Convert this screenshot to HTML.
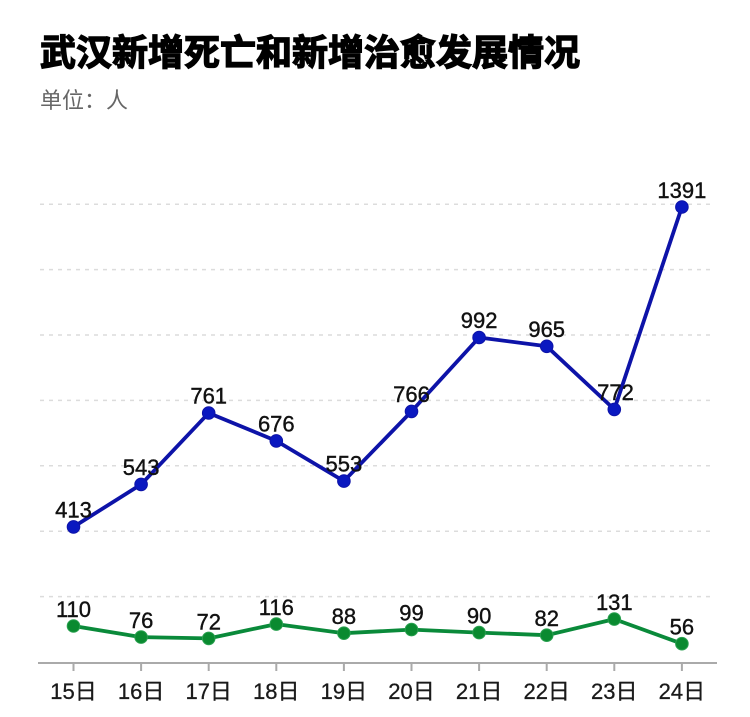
<!DOCTYPE html>
<html>
<head>
<meta charset="utf-8">
<style>
html,body{margin:0;padding:0;background:#fff;}
svg{display:block;}
.t{font-family:"Liberation Sans","Noto Sans CJK SC",sans-serif;}
</style>
</head>
<body>
<svg width="750" height="717" viewBox="0 0 750 717" xmlns="http://www.w3.org/2000/svg">
<rect width="750" height="717" fill="#fff"/>
<text x="40" y="65" font-family="'Noto Sans CJK SC',sans-serif" font-weight="bold" font-size="36" fill="#000" stroke="#000" stroke-width="1.4">武汉新增死亡和新增治愈发展情况</text>
<text x="40" y="108" font-family="'Noto Sans CJK SC',sans-serif" font-size="22" fill="#666">单位：人</text>

<g stroke="#dcdcdc" stroke-width="1.5" stroke-dasharray="4 5">
<line x1="40" y1="596.6" x2="712" y2="596.6"/>
<line x1="40" y1="531.2" x2="712" y2="531.2"/>
<line x1="40" y1="465.8" x2="712" y2="465.8"/>
<line x1="40" y1="400.4" x2="712" y2="400.4"/>
<line x1="40" y1="335.0" x2="712" y2="335.0"/>
<line x1="40" y1="269.6" x2="712" y2="269.6"/>
<line x1="40" y1="204.2" x2="712" y2="204.2"/>
</g>

<line x1="38" y1="663" x2="717" y2="663" stroke="#aaa" stroke-width="2"/>
<g stroke="#aaa" stroke-width="2">
<line x1="73.5" y1="663" x2="73.5" y2="671"/>
<line x1="141.1" y1="663" x2="141.1" y2="671"/>
<line x1="208.7" y1="663" x2="208.7" y2="671"/>
<line x1="276.3" y1="663" x2="276.3" y2="671"/>
<line x1="343.9" y1="663" x2="343.9" y2="671"/>
<line x1="411.5" y1="663" x2="411.5" y2="671"/>
<line x1="479.1" y1="663" x2="479.1" y2="671"/>
<line x1="546.7" y1="663" x2="546.7" y2="671"/>
<line x1="614.3" y1="663" x2="614.3" y2="671"/>
<line x1="681.9" y1="663" x2="681.9" y2="671"/>
</g>

<g class="t" font-size="22" fill="#1a1a1a" stroke="#1a1a1a" stroke-width="0.3" text-anchor="middle">
<text x="73.5" y="699">15日</text>
<text x="141.1" y="699">16日</text>
<text x="208.7" y="699">17日</text>
<text x="276.3" y="699">18日</text>
<text x="343.9" y="699">19日</text>
<text x="411.5" y="699">20日</text>
<text x="479.1" y="699">21日</text>
<text x="546.7" y="699">22日</text>
<text x="614.3" y="699">23日</text>
<text x="681.9" y="699">24日</text>
</g>

<!-- blue series -->
<polyline fill="none" stroke="#0d13a8" stroke-width="3.8" stroke-linejoin="round"
points="73.5,526.9 141.1,484.4 208.7,413.0 276.3,440.9 343.9,481.1 411.5,411.4 479.1,337.5 546.7,346.3 614.3,409.4 681.9,207.0"/>
<g fill="#0a18c0" stroke="#0d13a8" stroke-width="1">
<circle cx="73.5" cy="526.9" r="6.3"/>
<circle cx="141.1" cy="484.4" r="6.3"/>
<circle cx="208.7" cy="413.0" r="6.3"/>
<circle cx="276.3" cy="440.9" r="6.3"/>
<circle cx="343.9" cy="481.1" r="6.3"/>
<circle cx="411.5" cy="411.4" r="6.3"/>
<circle cx="479.1" cy="337.5" r="6.3"/>
<circle cx="546.7" cy="346.3" r="6.3"/>
<circle cx="614.3" cy="409.4" r="6.3"/>
<circle cx="681.9" cy="207.0" r="6.3"/>
</g>

<!-- green series -->
<polyline fill="none" stroke="#0a8a3a" stroke-width="3.8" stroke-linejoin="round"
points="73.5,626.0 141.1,637.1 208.7,638.4 276.3,624.1 343.9,633.2 411.5,629.6 479.1,632.6 546.7,635.2 614.3,619.1 681.9,643.7"/>
<g fill="#0a8a30" stroke="#2aa050" stroke-width="1">
<circle cx="73.5" cy="626.0" r="6.3"/>
<circle cx="141.1" cy="637.1" r="6.3"/>
<circle cx="208.7" cy="638.4" r="6.3"/>
<circle cx="276.3" cy="624.1" r="6.3"/>
<circle cx="343.9" cy="633.2" r="6.3"/>
<circle cx="411.5" cy="629.6" r="6.3"/>
<circle cx="479.1" cy="632.6" r="6.3"/>
<circle cx="546.7" cy="635.2" r="6.3"/>
<circle cx="614.3" cy="619.1" r="6.3"/>
<circle cx="681.9" cy="643.7" r="6.3"/>
</g>

<g class="t" font-size="22" fill="#111" stroke="#111" stroke-width="0.4" text-anchor="middle">
<text x="73.5" y="517.5">413</text>
<text x="141.1" y="475">543</text>
<text x="208.7" y="403.5">761</text>
<text x="276.3" y="431.5">676</text>
<text x="343.9" y="471.5">553</text>
<text x="411.5" y="402">766</text>
<text x="479.1" y="328">992</text>
<text x="546.7" y="337">965</text>
<text x="615.5" y="400">772</text>
<text x="681.9" y="198">1391</text>

<text x="73.5" y="617">110</text>
<text x="141.1" y="628">76</text>
<text x="208.7" y="629.5">72</text>
<text x="276.3" y="615">116</text>
<text x="343.9" y="624">88</text>
<text x="411.5" y="620.5">99</text>
<text x="479.1" y="623.5">90</text>
<text x="546.7" y="626">82</text>
<text x="614.3" y="610">131</text>
<text x="681.9" y="634.5">56</text>
</g>
</svg>
</body>
</html>
